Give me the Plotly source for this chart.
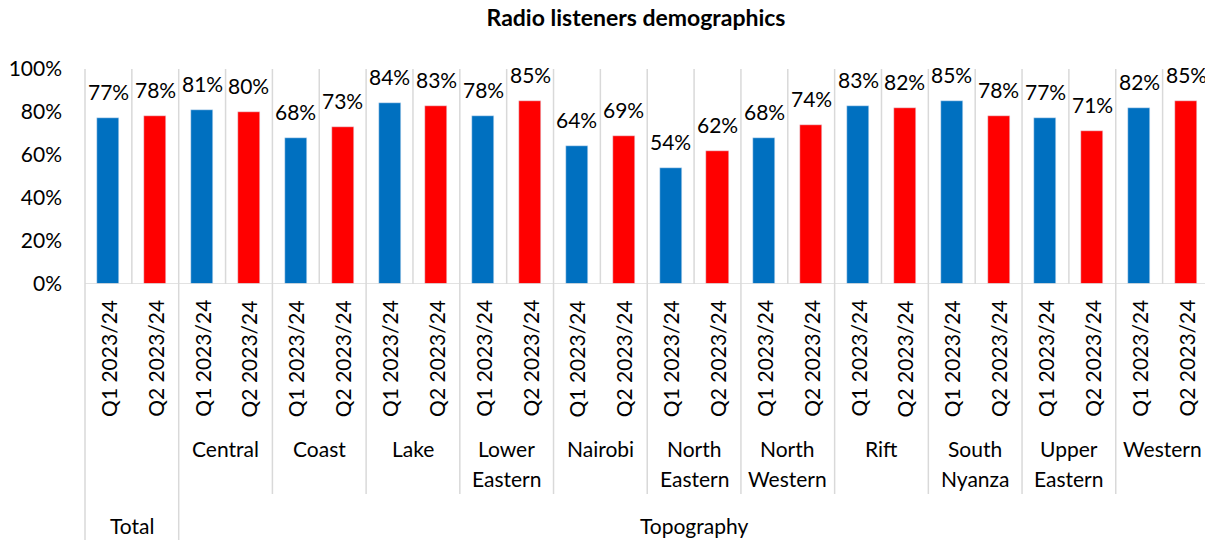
import plotly.graph_objects as go

# --- data -------------------------------------------------------------
regions = ["Total", "Central", "Coast", "Lake", "Lower\nEastern", "Nairobi",
           "North\nEastern", "North\nWestern", "Rift", "South\nNyanza",
           "Upper\nEastern", "Western"]
quarters = ["Q1 2023/24", "Q2 2023/24"]
q1_share = [77, 81, 68, 84, 78, 64, 54, 68, 83, 85, 77, 82]
q2_share = [78, 80, 73, 83, 85, 69, 62, 74, 82, 78, 71, 85]
top_levels = [("Total", 0, 0), ("Topography", 1, 11)]  # label, first region, last region
y_ticks = [0, 20, 40, 60, 80, 100]

# --- styling ----------------------------------------------------------
FONT = "Lato"
BLUE = "#0070C0"
RED = "#FF0000"
GRID = "#D9D9D9"
W, H = 1205, 542
M_L, M_R, M_T, M_B = 85, 0, 69, 258
PLOT_H = H - M_T - M_B


def py(pixel_y):
    """pixel row -> paper y coordinate"""
    return (H - M_B - pixel_y) / PLOT_H


n_groups = len(regions)
n_q = len(quarters)
x_q1 = [i * n_q for i in range(n_groups)]
x_q2 = [i * n_q + 1 for i in range(n_groups)]

fig = go.Figure()
fig.add_bar(x=x_q1, y=[v / 100 for v in q1_share], marker_color=BLUE,
            width=0.47, name=quarters[0], showlegend=False, hoverinfo="skip")
fig.add_bar(x=x_q2, y=[v / 100 for v in q2_share], marker_color=RED,
            width=0.47, name=quarters[1], showlegend=False, hoverinfo="skip")

annotations = []
shapes = []

# value labels above bars
for xs, vals in ((x_q1, q1_share), (x_q2, q2_share)):
    for x, v in zip(xs, vals):
        annotations.append(dict(x=x, y=v / 100, xref="x", yref="y",
                                text=f"{v}%", showarrow=False,
                                yanchor="bottom", xanchor="center", yshift=12,
                                font=dict(family=FONT, size=21, color="#000")))

# rotated quarter labels
for i in range(n_groups):
    for j, q in enumerate(quarters):
        annotations.append(dict(x=i * n_q + j, y=py(298), xref="x", yref="paper",
                                text=q, textangle=-90, showarrow=False,
                                xanchor="center", yanchor="top",
                                font=dict(family=FONT, size=21, color="#000")))

# region labels (second level)
for i, name in enumerate(regions):
    if i == 0:
        continue
    for k, line in enumerate(name.split("\n")):
        annotations.append(dict(x=i * n_q + (n_q - 1) / 2, y=py(448 + 30 * k),
                                xref="x", yref="paper", text=line, showarrow=False,
                                xanchor="center", yanchor="middle",
                                font=dict(family=FONT, size=21, color="#000")))

# top-level labels
for label, g0, g1 in top_levels:
    xc = (g0 * n_q - 0.5 + (g1 + 1) * n_q - 0.5) / 2
    annotations.append(dict(x=xc, y=py(525), xref="x", yref="paper", text=label,
                            showarrow=False, xanchor="center", yanchor="middle",
                            font=dict(family=FONT, size=21, color="#000")))

# category gridlines inside the plot
for k in range(1, n_groups * n_q):
    shapes.append(dict(type="line", xref="x", yref="y", x0=k - 0.5, x1=k - 0.5,
                       y0=0, y1=1, line=dict(color=GRID, width=1.5), layer="below"))

# left edge line running through all label rows
shapes.append(dict(type="line", xref="paper", yref="paper", x0=0, x1=0,
                   y0=1, y1=py(540), line=dict(color=GRID, width=1.5)))

# baseline
shapes.append(dict(type="line", xref="paper", yref="y", x0=0, x1=1, y0=0, y1=0,
                   line=dict(color=GRID, width=1.5)))

# region separators below the axis
for i in range(1, n_groups):
    xb = i * n_q - 0.5
    bottom = py(540) if i == 1 else py(494)
    shapes.append(dict(type="line", xref="x", yref="paper", x0=xb, x1=xb,
                       y0=0, y1=bottom, line=dict(color=GRID, width=1.5)))

fig.update_layout(
    width=W, height=H,
    margin=dict(l=M_L, r=M_R, t=M_T, b=M_B, pad=0),
    plot_bgcolor="white", paper_bgcolor="white",
    title=dict(text="<b>Radio listeners demographics</b>", x=(636 - M_L) / (W - M_L - M_R),
               xref="paper", xanchor="center", y=1 - 18 / H, yref="container",
               yanchor="middle", font=dict(family=FONT, size=23, color="#000")),
    xaxis=dict(range=[-0.5, 23.405], showticklabels=False, showgrid=False,
               zeroline=False, showline=False, ticks=""),
    yaxis=dict(range=[0, 1], tickvals=[t / 100 for t in y_ticks],
               ticktext=[f"{t}%" for t in y_ticks], showgrid=False,
               zeroline=False, showline=False, ticks="", ticklabelstandoff=22,
               tickfont=dict(family=FONT, size=21, color="#000")),
    bargap=0, annotations=annotations, shapes=shapes,
)

fig.write_html("out.html")
